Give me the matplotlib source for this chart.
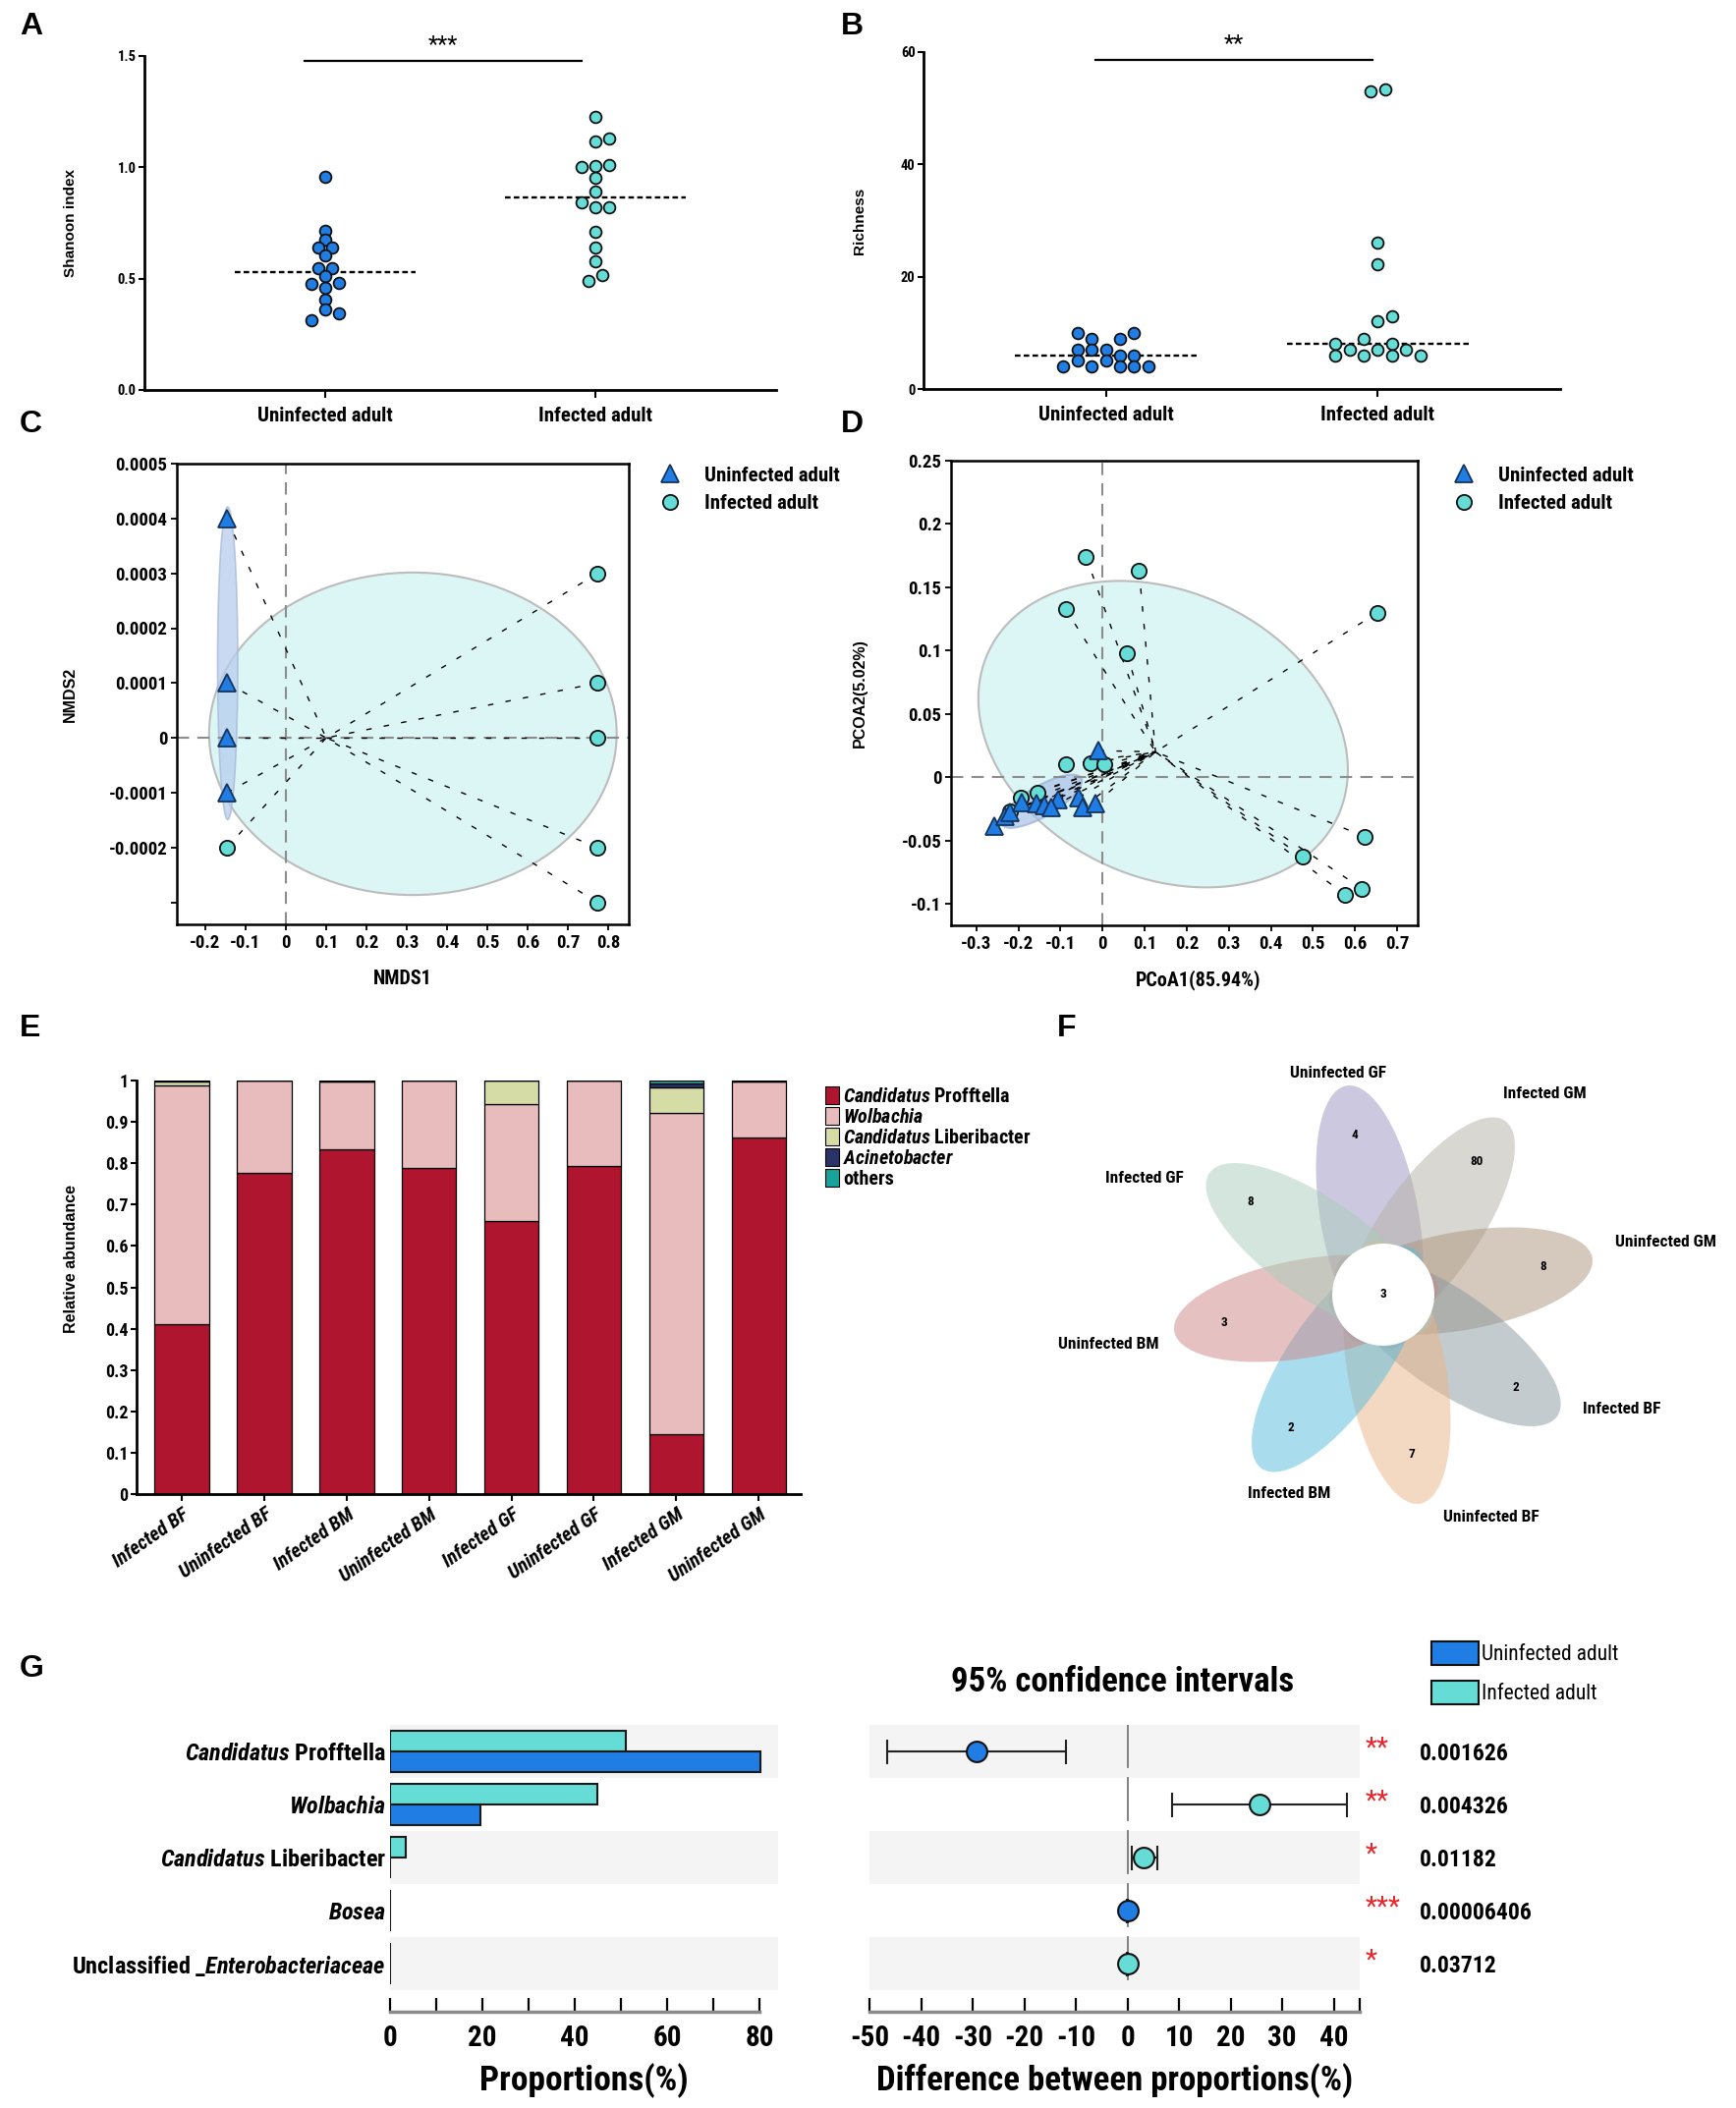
import matplotlib
matplotlib.use("Agg")
import matplotlib.pyplot as plt
from matplotlib import font_manager
from matplotlib.patches import Ellipse, Circle, Rectangle, Polygon
from matplotlib.lines import Line2D
import numpy as np


def pick_condensed():
    fl = font_manager.fontManager.ttflist
    names = {f.name for f in fl}
    for n in ['Liberation Sans Narrow', 'Roboto Condensed', 'Open Sans Condensed',
              'Noto Sans Condensed', 'DejaVu Sans Condensed']:
        if n in names:
            return n, 'normal'
    for fam in ['DejaVu Sans', 'Noto Sans', 'Open Sans', 'Roboto']:
        if any(f.name == fam and str(f.stretch) in ('condensed', 'semi-condensed')
               for f in fl):
            return fam, 'condensed'
    return 'Liberation Sans', 'normal'


NARROW, STRETCH = pick_condensed()
WIDE = 'Liberation Sans'

plt.rcParams['font.family'] = [NARROW, 'DejaVu Sans']
plt.rcParams['font.stretch'] = STRETCH
plt.rcParams['font.weight'] = 'bold'
plt.rcParams['axes.labelweight'] = 'bold'
plt.rcParams['axes.unicode_minus'] = False
plt.rcParams['mathtext.fontset'] = 'custom'
plt.rcParams['mathtext.rm'] = NARROW + ':weight=bold:stretch=' + STRETCH
plt.rcParams['mathtext.it'] = NARROW + ':style=italic:weight=bold:stretch=' + STRETCH
plt.rcParams['mathtext.bf'] = NARROW + ':weight=bold:stretch=' + STRETCH

# ---------------- data ----------------
groups = ['Uninfected adult', 'Infected adult']

# A: Shannon index
shannon_uninf = [0.956, 0.715, 0.676, 0.638, 0.638, 0.603, 0.547, 0.547, 0.513,
                 0.476, 0.481, 0.459, 0.404, 0.363, 0.344, 0.315]
shannon_inf = [1.228, 1.116, 1.128, 1.000, 1.006, 1.009, 0.954, 0.890, 0.841,
               0.819, 0.822, 0.709, 0.641, 0.579, 0.515, 0.491]

# B: richness
richness_uninf = [10, 10, 9, 9, 7, 7, 7, 6, 6, 5, 5, 4, 4, 4, 4, 4]
richness_inf = [53.0, 53.4, 26, 22.3, 13, 12, 9, 8, 8, 7, 7, 7, 6, 6, 6, 6]

# C: NMDS
nmds_uninf_x = [-0.146, -0.146, -0.146, -0.146]
nmds_uninf_y = [0.0004, 0.0001, 0.0, -0.0001]
nmds_inf_x = [-0.146, 0.773, 0.773, 0.773, 0.773, 0.773]
nmds_inf_y = [-0.0002, 0.0003, 0.0001, 0.0, -0.0002, -0.0003]
nmds_center = (0.1, 0.0)

# D: PCoA
pcoa_inf_x = [-0.039, 0.087, -0.088, 0.654, 0.058, -0.088, -0.028, 0.005,
              0.624, 0.475, 0.617, 0.577, -0.194, -0.154, -0.220]
pcoa_inf_y = [0.174, 0.163, 0.133, 0.130, 0.098, 0.010, 0.011, 0.010,
              -0.047, -0.063, -0.088, -0.093, -0.016, -0.012, -0.027]
pcoa_uninf_x = [-0.009, -0.258, -0.231, -0.220, -0.191, -0.158, -0.138,
                -0.105, -0.123, -0.056, -0.048, -0.017]
pcoa_uninf_y = [0.021, -0.039, -0.031, -0.028, -0.020, -0.021, -0.022,
                -0.018, -0.024, -0.016, -0.024, -0.021]
pcoa_center = (0.126, 0.020)

# E: relative abundance
samples = ['Infected BF', 'Uninfected BF', 'Infected BM', 'Uninfected BM',
           'Infected GF', 'Uninfected GF', 'Infected GM', 'Uninfected GM']
profftella = [0.412, 0.777, 0.833, 0.789, 0.660, 0.794, 0.144, 0.862]
wolbachia = [0.575, 0.223, 0.164, 0.211, 0.282, 0.206, 0.778, 0.136]
liberibacter = [0.011, 0.0, 0.001, 0.0, 0.058, 0.0, 0.061, 0.0]
acinetobacter = [0.001, 0.0, 0.002, 0.0, 0.0, 0.0, 0.010, 0.001]
others = [0.001, 0.0, 0.0, 0.0, 0.0, 0.0, 0.007, 0.001]
taxa_e = [r'$\mathit{Candidatus}$ Profftella', r'$\mathit{Wolbachia}$',
          r'$\mathit{Candidatus}$ Liberibacter', r'$\mathit{Acinetobacter}$', 'others']

# F: flower venn
venn_sets = ['Uninfected GF', 'Infected GM', 'Uninfected GM', 'Infected BF',
             'Uninfected BF', 'Infected BM', 'Uninfected BM', 'Infected GF']
venn_unique = [4, 80, 8, 2, 7, 2, 3, 8]
venn_core = 3

# G: extended error bar
g_taxa = [r'$\mathit{Candidatus}$ Profftella', r'$\mathit{Wolbachia}$',
          r'$\mathit{Candidatus}$ Liberibacter', r'$\mathit{Bosea}$',
          r'Unclassified _$\mathit{Enterobacteriaceae}$']
g_infected = [51.1, 44.8, 3.5, 0.0, 0.0]
g_uninfected = [80.2, 19.5, 0.0, 0.0, 0.0]
g_diff = [-29.3, 25.6, 3.2, 0.0, 0.0]
g_ci_low = [-46.6, 8.6, 0.8, -0.1, -0.1]
g_ci_high = [-11.9, 42.5, 5.8, 0.1, 0.1]
g_higher = ['Uninfected', 'Infected', 'Infected', 'Uninfected', 'Infected']
g_stars = ['**', '**', '*', '***', '*']
g_pvalues = ['0.001626', '0.004326', '0.01182', '0.00006406', '0.03712']

# ---------------- style ----------------
BLUE = '#1f7de3'
CYAN = '#66dcd6'
E_COLORS = ['#b01530', '#e8bcbd', '#d6dca6', '#2b3268', '#17a39a']
PETAL_COLORS = ['#9b93c1', '#b5b1a5', '#ad957d', '#8999a1',
                '#ebb587', '#55bddd', '#cd8587', '#a9cdbd']

W, H = 1767, 2146
fig = plt.figure(figsize=(W / 100, H / 100), dpi=100, facecolor='white')


def box(l, t, r, b):
    return fig.add_axes([l / W, 1 - b / H, (r - l) / W, (b - t) / H])


def fmt(v):
    return '%g' % round(v, 5)


# panel letters
for letter, (px, py) in zip('ABCDEFG', [(20, 27), (856, 27), (20, 432), (856, 432),
                                        (20, 1047), (1076, 1047), (20, 1699)]):
    fig.text(px / W, 1 - py / H, letter, fontsize=23, fontweight='bold',
             family=WIDE, va='center', ha='left')

# ---------------- A & B ----------------
STEP = 0.052
offs_a = [[0, 0, 0, -0.5, 0.5, 0, -0.5, 0.5, 0, -1, 1, 0, 0, 0, 1, -1],
          [0, 0, 1, -1, 0, 1, 0, 0, -1, 0, 1, 0, 0, 0, 0.5, -0.5]]
offs_b = [[-2, 2, -1, 1, -2, -1, 0, 1, 2, -2, 0, -3, -1, 1, 2, 3],
          [-0.5, 0.5, 0, 0, 1, 0, -1, -3, 1, -2, 0, 2, -3, -1, 1, 3]]


def dot_panel(ax, series, offsets, ylim, yticks, ylabels, ylabel, lab_x,
              sig, sig_x, sig_y, sig_ty):
    for k, (vals, offs, col) in enumerate(zip(series, offsets, [BLUE, CYAN])):
        xs = k + np.array(offs) * STEP
        ax.scatter(xs, vals, s=72, c=col, edgecolors='#111111', linewidths=1.3,
                   zorder=3, clip_on=False)
        med = np.median(vals)
        ax.plot([k - 0.335, k + 0.335], [med, med], ls=(0, (2.4, 1.4)),
                color='black', lw=1.7, zorder=2)
    ax.plot(sig_x, [sig_y, sig_y], color='black', lw=1.6, clip_on=False)
    ax.text(np.mean(sig_x), sig_ty, sig, ha='center', va='bottom', fontsize=17,
            fontweight='normal')
    ax.set_xlim(-0.67, 1.67)
    ax.set_ylim(*ylim)
    ax.set_yticks(yticks)
    ax.set_yticklabels(ylabels)
    ax.set_xticks([0, 1])
    ax.set_xticklabels(groups, fontsize=15)
    for s in ['top', 'right']:
        ax.spines[s].set_visible(False)
    for s in ['left', 'bottom']:
        ax.spines[s].set_linewidth(2)
    ax.tick_params(axis='y', length=4, width=1.5, labelsize=10.5, pad=2)
    ax.tick_params(axis='x', length=6, width=1.5, pad=6)
    ax.set_ylabel(ylabel, family=WIDE, fontsize=11, fontweight='bold')
    ax.yaxis.set_label_coords(lab_x, 0.5)


axA = box(147, 57, 790, 397)
dot_panel(axA, [shannon_uninf, shannon_inf], offs_a, (0, 1.5), [0, 0.5, 1.0, 1.5],
          ['0.0', '0.5', '1.0', '1.5'], 'Shanoon index', -0.105,
          '***', [-0.075, 0.95], 1.48, 1.50)

axB = box(940, 53, 1588, 396)
dot_panel(axB, [richness_uninf, richness_inf], offs_b, (0, 60), [0, 20, 40, 60],
          ['0', '20', '40', '60'], 'Richness', -0.09,
          '**', [-0.037, 0.98], 58.6, 59.4)


# ---------------- C & D ----------------
def ord_axes(ax, xlim, ylim, xticks, yticks, ylabels):
    ax.set_xlim(*xlim)
    ax.set_ylim(*ylim)
    ax.set_xticks(xticks)
    ax.set_xticklabels([fmt(v) for v in xticks])
    ax.set_yticks(yticks)
    ax.set_yticklabels(ylabels)
    for s in ax.spines.values():
        s.set_linewidth(1.8)
    ax.tick_params(length=4, width=1.3, labelsize=13.5, pad=3)
    ax.axhline(0, color='#8c8c8c', lw=1.5, ls=(0, (6, 4)), zorder=2)
    ax.axvline(0, color='#8c8c8c', lw=1.5, ls=(0, (6, 4)), zorder=2)


def spider(ax, xs, ys, center):
    for x, y in zip(xs, ys):
        ax.plot([x, center[0]], [y, center[1]], color='black', lw=1.0,
                ls=(0, (4, 9)), zorder=2)


def tilted_ellipse(ax, center, l11, l21, l22, fc, ec, alpha):
    t = np.linspace(0, 2 * np.pi, 300)
    xs = center[0] + l11 * np.cos(t)
    ys = center[1] + l21 * np.cos(t) + l22 * np.sin(t)
    ax.add_patch(Polygon(np.column_stack([xs, ys]), closed=True, fc=fc, ec=ec,
                         lw=1.5, alpha=alpha, zorder=1))


TRI = dict(marker='^', ls='none', ms=13, mfc=BLUE, mec='#15345c', mew=1.3, zorder=4)
CIR = dict(marker='o', ls='none', ms=11, mfc=CYAN, mec='#111111', mew=1.3, zorder=4)

axC = box(180, 472, 640, 941)
ord_axes(axC, (-0.27, 0.85), (-0.00034, 0.0005),
         np.round(np.arange(-0.2, 0.81, 0.1), 1),
         [0.0005, 0.0004, 0.0003, 0.0002, 0.0001, 0, -0.0001, -0.0002, -0.0003],
         ['0.0005', '0.0004', '0.0003', '0.0002', '0.0001', '0', '-0.0001', '-0.0002', ''])
axC.add_patch(Ellipse((0.315, 0.0000075), 1.01, 0.000588, fc='#dcf6f6',
                      ec='#bcbcbc', lw=1.5, zorder=1))
axC.add_patch(Ellipse((-0.144, 0.000136), 0.05, 0.00057, fc='#b7cdee',
                      ec='#a6b8d6', lw=1.2, alpha=0.75, zorder=1))
spider(axC, nmds_uninf_x + nmds_inf_x, nmds_uninf_y + nmds_inf_y, nmds_center)
axC.plot(nmds_inf_x, nmds_inf_y, **CIR)
axC.plot(nmds_uninf_x, nmds_uninf_y, **TRI)
axC.set_xlabel('NMDS1', fontsize=14.5)
axC.xaxis.set_label_coords(0.5, -0.098)
axC.set_ylabel('NMDS2', family=WIDE, fontsize=11.5)
axC.yaxis.set_label_coords(-0.22, 0.5)

axD = box(968, 469, 1443, 942)
ord_axes(axD, (-0.36, 0.749), (-0.117, 0.25),
         np.round(np.arange(-0.3, 0.71, 0.1), 1),
         [0.25, 0.2, 0.15, 0.1, 0.05, 0, -0.05, -0.1],
         ['0.25', '0.2', '0.15', '0.1', '0.05', '0', '-0.05', '-0.1'])
tilted_ellipse(axD, (0.144, 0.034), 0.439, -0.0282, 0.1177, '#dcf6f6', '#bcbcbc', 1.0)
tilted_ellipse(axD, (-0.145, -0.019), 0.096, 0.016, 0.0136, '#a9c1e8', '#9aaed0', 0.7)
spider(axD, pcoa_uninf_x + pcoa_inf_x, pcoa_uninf_y + pcoa_inf_y, pcoa_center)
axD.plot(pcoa_inf_x, pcoa_inf_y, **CIR)
axD.plot(pcoa_uninf_x, pcoa_uninf_y, **TRI)
axD.set_xlabel('PCoA1(85.94%)', fontsize=14.5)
axD.xaxis.set_label_coords(0.53, -0.095)
axD.set_ylabel('PCOA2(5.02%)', family=WIDE, fontsize=11.5)
axD.yaxis.set_label_coords(-0.18, 0.5)

leg_handles = [Line2D([], [], marker='^', ls='none', ms=13, mfc=BLUE, mec='#15345c', mew=1.3),
               Line2D([], [], marker='o', ls='none', ms=11, mfc=CYAN, mec='#111111', mew=1.3)]
for lx in (642, 1450):
    fig.legend(leg_handles, groups, loc='upper left', bbox_to_anchor=(lx / W, 1 - 456 / H),
               frameon=False, fontsize=15, handletextpad=0.7, labelspacing=0.45)

# ---------------- E ----------------
axE = box(139, 1100, 815, 1521)
xe = np.arange(len(samples))
bottom = np.zeros(len(samples))
for vals, col in zip([profftella, wolbachia, liberibacter, acinetobacter, others], E_COLORS):
    axE.bar(xe, vals, width=0.66, bottom=bottom, color=col, edgecolor='black', linewidth=0.9)
    bottom += np.array(vals)
axE.set_xlim(-0.55, 7.51)
axE.set_ylim(0, 1.0)
yt = np.round(np.arange(0, 1.01, 0.1), 1)
axE.set_yticks(yt)
axE.set_yticklabels([fmt(v) for v in yt])
axE.set_xticks(xe)
axE.set_xticklabels(samples, rotation=35, ha='right', rotation_mode='anchor',
                    fontstyle='italic', fontsize=14.5)
for s in ['top', 'right']:
    axE.spines[s].set_visible(False)
for s in ['left', 'bottom']:
    axE.spines[s].set_linewidth(2)
axE.tick_params(axis='y', length=4, width=1.5, labelsize=13, pad=2)
axE.tick_params(axis='x', length=5, width=1.5, pad=3)
axE.set_ylabel('Relative abundance', family=WIDE, fontsize=11.5)
axE.yaxis.set_label_coords(-0.088, 0.57)
e_handles = [Rectangle((0, 0), 1, 1, fc=c, ec='black', lw=0.8) for c in E_COLORS]
fig.legend(e_handles, taxa_e, loc='upper left', bbox_to_anchor=(822 / W, 1 - 1088 / H),
           frameon=False, handlelength=0.7, handleheight=1.0,
           handletextpad=0.2, labelspacing=0.05, prop={'weight': 'bold', 'size': 14.5})

# ---------------- F ----------------
axF = box(1060, 1060, 1767, 1590)
axF.set_xlim(-348, 359)
axF.set_ylim(-272, 258)
axF.axis('off')
label_pos = [(-46, 225), (164, 204), (287, 53), (243, -117),
             (110, -227), (-96, -203), (-280, -51), (-243, 118)]
for i, (name, n, col) in enumerate(zip(venn_sets, venn_unique, PETAL_COLORS)):
    ang = 100 - 45 * i
    r = np.deg2rad(ang)
    axF.add_patch(Ellipse((80 * np.cos(r), 80 * np.sin(r)), 272, 100, angle=ang,
                          fc=col, ec='none', alpha=0.5))
    axF.text(165 * np.cos(r), 165 * np.sin(r), str(n), ha='center', va='center',
             fontsize=9.5)
    axF.text(label_pos[i][0], label_pos[i][1], name, ha='center', va='center',
             fontsize=12.5)
axF.add_patch(Circle((0, 0), 52, fc='white', ec='none', zorder=5))
axF.text(0, 0, str(venn_core), ha='center', va='center', fontsize=9.5, zorder=6)

# ---------------- G ----------------
rows = np.arange(len(g_taxa))


def g_common(ax, lo, hi, major, minor):
    for i in rows[::2]:
        ax.axhspan(i - 0.5, i + 0.5, color='#f4f4f4', zorder=0, lw=0)
    ax.set_ylim(len(rows) - 0.5, -0.5)
    for s in ['top', 'right', 'left']:
        ax.spines[s].set_visible(False)
    ax.spines['bottom'].set_position(('outward', 16))
    ax.spines['bottom'].set_bounds(lo, hi)
    ax.spines['bottom'].set_color('#8a8a8a')
    ax.spines['bottom'].set_linewidth(2.5)
    ax.set_xticks(major)
    ax.set_xticks(minor, minor=True)
    ax.tick_params(axis='x', which='both', direction='in', length=10, width=1.6,
                   color='black', labelsize=21, pad=9)


axG1 = box(397, 1756, 792, 2026)
axG1.set_xlim(0, 84)
axG1.barh(rows - 0.19, g_infected, height=0.38, color=CYAN, edgecolor='#1a1a1a', lw=1.5, zorder=2)
axG1.barh(rows + 0.19, g_uninfected, height=0.38, color=BLUE, edgecolor='#1a1a1a', lw=1.5, zorder=2)
g_common(axG1, 0, 80, [0, 20, 40, 60, 80], [10, 30, 50, 70])
axG1.set_yticks(rows)
axG1.set_yticklabels(g_taxa, fontsize=17.5)
axG1.tick_params(axis='y', length=0, pad=3)
axG1.set_xlabel('Proportions(%)', fontsize=25.5, labelpad=8)

axG2 = box(885, 1756, 1384, 2026)
axG2.set_xlim(-50, 45)
g_common(axG2, -50, 45, np.arange(-50, 41, 10), [45])
axG2.set_yticks([])
for i in rows:
    axG2.plot([0, 0], [i - 0.5, i + 0.3], color='#777777', lw=1.3, zorder=1)
for i in rows:
    col = BLUE if g_higher[i] == 'Uninfected' else CYAN
    axG2.errorbar(g_diff[i], i, xerr=[[g_diff[i] - g_ci_low[i]], [g_ci_high[i] - g_diff[i]]],
                  fmt='o', ms=15, mfc=col, mec='#111111', mew=1.5, ecolor='#222222',
                  elinewidth=1.5, capsize=9, capthick=1.5, zorder=3)
    axG2.text(46, i - 0.05, g_stars[i], color='#e8262b', fontsize=20, ha='left',
              va='center', fontweight='normal', clip_on=False)
    axG2.text(56.5, i + 0.05, g_pvalues[i], fontsize=17, ha='left', va='center',
              clip_on=False)
axG2.set_xlabel('Difference between proportions(%)', fontsize=25, labelpad=8)
fig.text(1143 / W, 1 - 1712 / H, '95% confidence intervals', fontsize=25,
         ha='center', va='center')
g_handles = [Rectangle((0, 0), 1, 1, fc=BLUE, ec='#111111', lw=1.5),
             Rectangle((0, 0), 1, 1, fc=CYAN, ec='#111111', lw=1.5)]
fig.legend(g_handles, groups, loc='upper left', bbox_to_anchor=(1438 / W, 1 - 1652 / H),
           frameon=False, handlelength=2.2, handleheight=1.3, handletextpad=0.15,
           labelspacing=0.75, prop={'weight': 'normal', 'size': 15.5})

fig.savefig('out.png', dpi=100, facecolor='white')
